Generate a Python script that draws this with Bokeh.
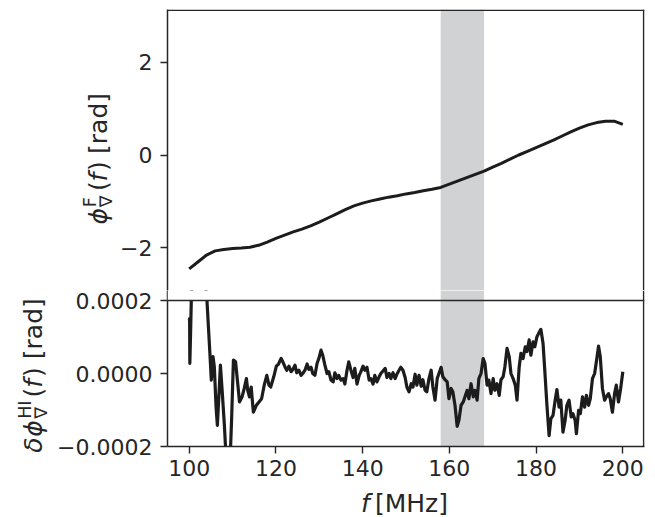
import numpy as np
from bokeh.plotting import figure
from bokeh.layouts import column, row
from bokeh.models import Range1d, FixedTicker, Label, BoxAnnotation, Span
from bokeh.embed import file_html
from bokeh.resources import INLINE

# ---------------- data ----------------
freq_top = [100, 102, 104, 106, 108, 110, 112, 114, 116, 118, 120, 122, 124, 126, 128,
            130, 132, 134, 136, 138, 140, 142, 144, 146, 148, 150, 152, 154, 156, 158,
            160, 162, 164, 166, 168, 170, 172, 174, 176, 178, 180, 182, 184, 186, 188,
            190, 192, 194, 196, 198, 200]
phase_top = [-2.46, -2.31, -2.16, -2.07, -2.04, -2.02, -2.01, -1.99, -1.95, -1.88, -1.80,
             -1.73, -1.66, -1.60, -1.53, -1.45, -1.36, -1.27, -1.18, -1.10, -1.04, -0.99,
             -0.95, -0.91, -0.88, -0.84, -0.81, -0.77, -0.74, -0.70, -0.63, -0.56, -0.49,
             -0.42, -0.35, -0.26, -0.18, -0.09, 0.00, 0.08, 0.16, 0.24, 0.32, 0.41, 0.50,
             0.58, 0.65, 0.70, 0.73, 0.73, 0.66]

freq_res = [100.0, 100.1, 100.15, 100.3, 100.6, 101.5, 103.0, 104.1, 104.8, 105.1, 105.5,
            105.8, 106.2, 106.5, 106.8, 107.2, 107.6, 108.1, 108.6, 109.4, 109.8, 110.2,
            110.7, 111.2, 111.6, 112.2, 112.7, 113.2, 113.5, 113.9, 114.3, 114.8, 115.5,
            116.1, 116.7, 117.3, 117.9, 118.4, 118.8, 119.5, 120.1, 120.6, 121.2, 121.6,
            122.1, 122.5, 123.0, 123.5, 123.9, 124.4, 124.8, 125.3, 125.8, 126.2, 126.7,
            127.2, 127.6, 128.1, 128.5, 129.0, 129.5, 129.9, 130.4, 130.8, 131.3, 131.8,
            132.2, 132.7, 133.2, 133.6, 134.1, 134.5, 135.0, 135.5, 135.9, 136.4, 136.8,
            137.3, 137.8, 138.2, 138.7, 139.2, 139.6, 140.1, 140.5, 141.0, 141.5, 141.9,
            142.4, 142.8, 143.3, 143.8, 144.2, 144.7, 145.2, 145.6, 146.1, 146.5, 147.0,
            147.5, 147.9, 148.4, 148.8, 149.3, 149.8, 150.2, 150.7, 151.2, 151.6, 152.1,
            152.5, 153.0, 153.5, 153.9, 154.4, 154.8, 155.3, 155.8, 156.2, 156.7, 157.2,
            157.6, 158.1, 158.5, 159.0, 159.5, 159.9, 160.4, 160.8, 161.3, 161.8, 162.2,
            162.7, 163.2, 163.6, 164.1, 164.5, 165.0, 165.5, 165.9, 166.4, 166.8, 167.3,
            167.8, 168.2, 168.7, 169.1, 169.6, 170.1, 170.5, 171.0, 171.5, 171.9, 172.4,
            172.8, 173.3, 173.8, 174.2, 174.7, 175.2, 175.6, 176.1, 176.5, 177.0, 177.5,
            177.9, 178.4, 178.8, 179.3, 179.7, 180.2, 180.6, 181.1, 181.6, 182.0, 182.5,
            183.0, 183.4, 183.9, 184.4, 184.8, 185.3, 185.7, 186.2, 186.7, 187.1, 187.6,
            188.1, 188.5, 189.0, 189.3, 189.8, 190.2, 190.7, 191.2, 191.6, 192.1, 192.5,
            193.0, 193.5, 193.9, 194.4, 194.8, 195.3, 195.8, 196.2, 196.7, 197.1, 197.6,
            198.1, 198.5, 199.0, 199.5, 200.0]
# residual phase in units of 1e-4 rad
res_e4 = [1.45, 1.50, 0.28, 1.00, 2.60, 4.00, 3.50, 2.00, 0.50, -0.18, 0.46,
          0.18, -0.92, -1.42, -0.73, 0.23, -0.46, -1.38, -2.50, -2.50, -1.19, 0.37,
          0.32, -0.28, -0.78, -0.64, -0.41, -0.14, -0.46, -0.64, -0.37, -1.06, -0.87,
          -0.78, -0.69, -0.32, -0.05, -0.32, -0.37, -0.09, 0.20, 0.26, 0.41, 0.32,
          0.18, 0.09, 0.20, 0.05, 0.11, 0.23, 0.02, 0.09, -0.05, 0.00, 0.09,
          0.26, 0.11, 0.17, 0.00, -0.05, 0.28, 0.41, 0.64, 0.50, 0.23, 0.00,
          0.05, -0.18, -0.23, 0.02, -0.14, -0.05, -0.18, -0.14, -0.29, 0.09, 0.32,
          0.09, -0.11, 0.14, -0.29, -0.05, 0.05, 0.20, 0.09, 0.17, -0.18, -0.14,
          -0.29, -0.05, -0.23, -0.09, 0.00, 0.07, 0.14, -0.11, 0.00, -0.14, 0.02,
          -0.14, -0.02, 0.09, 0.17, 0.09, -0.11, -0.37, -0.50, -0.28, -0.37, -0.02,
          -0.32, -0.05, -0.35, -0.17, -0.46, -0.50, -0.14, 0.09, -0.37, -0.73, -0.14,
          0.00, 0.17, -0.09, -0.17, -0.23, -0.69, -0.41, -0.50, -0.87, -1.45, -1.28,
          -0.87, -0.78, -0.64, -0.46, -0.69, -0.28, -0.64, -0.46, -0.73, -0.14, 0.00,
          0.41, 0.28, -0.32, -0.18, -0.55, -0.14, -0.46, -0.28, -0.60, -0.17, -0.09,
          0.18, 0.69, 0.46, 0.00, -0.14, -0.32, -0.73, 0.18, 0.55, 0.41, 0.73,
          0.60, 0.92, 0.50, 0.87, 0.73, 1.01, 1.10, 1.21, 0.83, 0.09, -0.87,
          -1.70, -1.24, -1.15, -0.73, -0.44, -0.92, -0.73, -1.61, -1.28, -0.87, -0.73,
          -1.19, -1.10, -1.28, -1.65, -1.01, -1.10, -0.64, -0.92, -0.60, -0.87, -0.69,
          -0.14, 0.00, 0.32, 0.75, 0.46, -0.41, -0.73, -0.64, -0.55, -0.69, -1.06,
          -0.55, -0.32, -0.78, -0.41, 0.05]
res = [v * 1e-4 for v in res_e4]

band_edges = [158, 168]
x_ticks = [100, 120, 140, 160, 180, 200]
top_ticks = [-2, 0, 2]
top_tick_labels = ["\u22122", "0", "2"]
bot_ticks = [-0.0002, 0.0, 0.0002]
bot_tick_labels = ["\u22120.0002", "0.0000", "0.0002"]
x_lim = [95, 205]
top_lim = [-np.pi, np.pi]
bot_lim = [-0.0002, 0.0002]

# ---------------- style / layout ----------------
FONT = "DejaVu Sans"
INK = "#262626"
LINE = "#1c1c1c"
SHADE = "#d1d2d4"
TICK_PX = "22px"
LAB = 25.0
SUB = 0.7 * LAB
BASE_FIX = 0.3        # baseline correction (fraction of font size)
BW = 1.6              # frame line width

TOTAL_W = 647          # canvas width
FRAME_L = 167          # frame left edge (px)
FRAME_R = 644          # frame right edge (px)
SPLIT = 300            # panel boundary (px)
STRIPE = 10            # part of the top panel drawn by the lower figure (px)
TOP_PX = 291           # top panel height (px)
BOT_PX = 146           # bottom panel height (px)
TOP_H = SPLIT - STRIPE           # upper figure height (frame 9..290)
BOT_H = STRIPE + BOT_PX + 40     # lower figure height
XLAB_H = 517 - TOP_H - BOT_H     # x-label strip height
STRIP_W = 52           # left strip (bottom label), full height
LAB1_W = 64            # strip for the top label

FRAME_W = FRAME_R - FRAME_L
xr = Range1d(*x_lim)
dx_half = (x_lim[1] - x_lim[0]) / FRAME_W * BW / 2
top_span = top_lim[1] - top_lim[0]
bot_span = bot_lim[1] - bot_lim[0]
yr1 = Range1d(top_lim[0] + top_span * STRIPE / TOP_PX, top_lim[1])
yr2 = Range1d(bot_lim[0], bot_lim[1] + bot_span * STRIPE / BOT_PX)


def style_axis(ax):
    ax.axis_line_color = INK
    ax.axis_line_width = 1.5
    ax.major_tick_line_color = INK
    ax.major_tick_line_width = 1.4
    ax.major_tick_out = 7
    ax.major_tick_in = 0
    ax.minor_tick_line_color = None
    ax.major_label_text_font = FONT
    ax.major_label_text_font_size = TICK_PX
    ax.major_label_text_color = INK
    ax.major_label_standoff = 8


def helper(w, h):
    f = figure(width=w, height=h, x_range=Range1d(0, w), y_range=Range1d(0, h),
               output_backend="svg", toolbar_location=None, x_axis_location=None,
               y_axis_location=None, min_border=0, outline_line_color=None)
    f.grid.visible = False
    f.background_fill_color = "white"
    f.border_fill_color = "white"
    return f


def add_piece(p, x, y, text, size, italic=False, angle=0.0):
    p.add_layout(Label(x=x, y=y, text=text, angle=angle, text_font=FONT,
                       text_font_size=f"{size:.1f}px",
                       text_font_style="italic" if italic else "normal",
                       text_color=INK, text_align="left", text_baseline="alphabetic"))


def vertical_label(p, xb, yc, pieces):
    # pieces: (text, size, italic, perpendicular shift (px, + = below baseline), advance)
    total = sum(pc[4] for pc in pieces)
    y = yc - total / 2
    for text, size, italic, shift, adv in pieces:
        add_piece(p, xb + shift - BASE_FIX * size, y, text, size, italic, angle=np.pi / 2)
        y += adv


# ---------------- main panels ----------------
p1 = figure(width=TOTAL_W - STRIP_W - LAB1_W, height=TOP_H, x_range=xr, y_range=yr1,
            output_backend="svg", toolbar_location=None, x_axis_location=None,
            min_border_left=FRAME_L - STRIP_W - LAB1_W, min_border_right=TOTAL_W - FRAME_R,
            min_border_top=9, min_border_bottom=0)
p2 = figure(width=TOTAL_W - STRIP_W, height=BOT_H, x_range=xr, y_range=yr2,
            output_backend="svg", toolbar_location=None,
            min_border_left=FRAME_L - STRIP_W, min_border_right=TOTAL_W - FRAME_R,
            min_border_top=0, min_border_bottom=BOT_H - STRIPE - BOT_PX)

for p in (p1, p2):
    p.grid.visible = False
    p.outline_line_color = None
    p.background_fill_color = "white"
    p.border_fill_color = "white"
    p.add_layout(BoxAnnotation(left=band_edges[0], right=band_edges[1], fill_color=SHADE,
                               fill_alpha=1.0, line_alpha=0, level="underlay"))
    for ax in p.yaxis:
        style_axis(ax)

p1.yaxis.ticker = FixedTicker(ticks=top_ticks)
p1.yaxis.major_label_overrides = dict(zip(top_ticks, top_tick_labels))
p2.yaxis.ticker = FixedTicker(ticks=bot_ticks)
p2.yaxis.major_label_overrides = dict(zip(bot_ticks, bot_tick_labels))
style_axis(p2.xaxis[0])
p2.xaxis.ticker = FixedTicker(ticks=x_ticks)
p2.xaxis.major_label_standoff = 6

p1.line(freq_top, phase_top, line_color=LINE, line_width=3.0)
p2.line(freq_res, res, line_color=LINE, line_width=3.2, line_join="round")

# stripe of the upper panel that lies in the lower figure: blank it, re-shade it
p2.add_layout(BoxAnnotation(bottom=bot_lim[1], top=yr2.end, left=x_lim[0], right=x_lim[1],
                            fill_color="white", fill_alpha=1.0, line_alpha=0,
                            level="annotation"))
p2.add_layout(BoxAnnotation(bottom=bot_lim[1], top=yr2.end, left=band_edges[0],
                            right=band_edges[1], fill_color=SHADE, fill_alpha=1.0,
                            line_alpha=0, level="annotation"))

# frame lines (top, right, panel boundary)
dy_half_top = top_span / TOP_PX * BW / 2
p1.add_layout(Span(location=top_lim[1] - dy_half_top, dimension="width",
                   line_color=INK, line_width=BW, level="overlay"))
for p in (p1, p2):
    p.add_layout(Span(location=x_lim[1] - dx_half, dimension="height",
                      line_color=INK, line_width=BW, level="overlay"))
p2.add_layout(Span(location=bot_lim[1], dimension="width", line_color=INK,
                   line_width=BW, level="overlay"))

# ---------------- axis labels as real text ----------------
SP = 0.318 * LAB
lab1 = helper(LAB1_W, TOP_H)
vertical_label(lab1, 105 - STRIP_W, TOP_H - 155, [
    ("\u03d5", LAB, True, 0, 0.68 * LAB + 1),
    ("\u2207", SUB, False, 0.22 * LAB, 0),
    ("F", SUB, False, -0.42 * LAB, 0.838 * SUB + 2),
    ("(", LAB, False, 0, 0.39 * LAB),
    ("f", LAB, True, 0, 0.352 * LAB + 2),
    (")", LAB, False, 0, 0.39 * LAB + SP),
    ("[rad]", LAB, False, 0, 2.44 * LAB),
])

strip = helper(STRIP_W, TOP_H + BOT_H)
vertical_label(strip, 40, TOP_H + BOT_H - 375, [
    ("\u03b4", LAB, True, 0, 0.64 * LAB),
    ("\u03d5", LAB, True, 0, 0.68 * LAB + 1),
    ("\u2207", SUB, False, 0.22 * LAB, 0),
    ("HI", SUB, False, -0.42 * LAB, 1.05 * SUB + 3),
    ("(", LAB, False, 0, 0.39 * LAB),
    ("f", LAB, True, 0, 0.352 * LAB + 2),
    (")", LAB, False, 0, 0.39 * LAB + SP),
    ("[rad]", LAB, False, 0, 2.44 * LAB),
])

xlab = helper(TOTAL_W, XLAB_H)
f_adv = (0.352 + 0.2) * LAB
xl_total = f_adv + 2.92 * LAB
x0 = 404 - xl_total / 2
yb = XLAB_H - (510.0 - (TOP_H + BOT_H)) + BASE_FIX * LAB
add_piece(xlab, x0, yb, "f", LAB, True)
add_piece(xlab, x0 + f_adv, yb, "[MHz]", LAB, False)

right_block = column(row(lab1, p1, spacing=0), p2, spacing=0)
layout = column(row(strip, right_block, spacing=0), xlab, spacing=0)
open("out.html", "w").write(file_html(layout, INLINE))
